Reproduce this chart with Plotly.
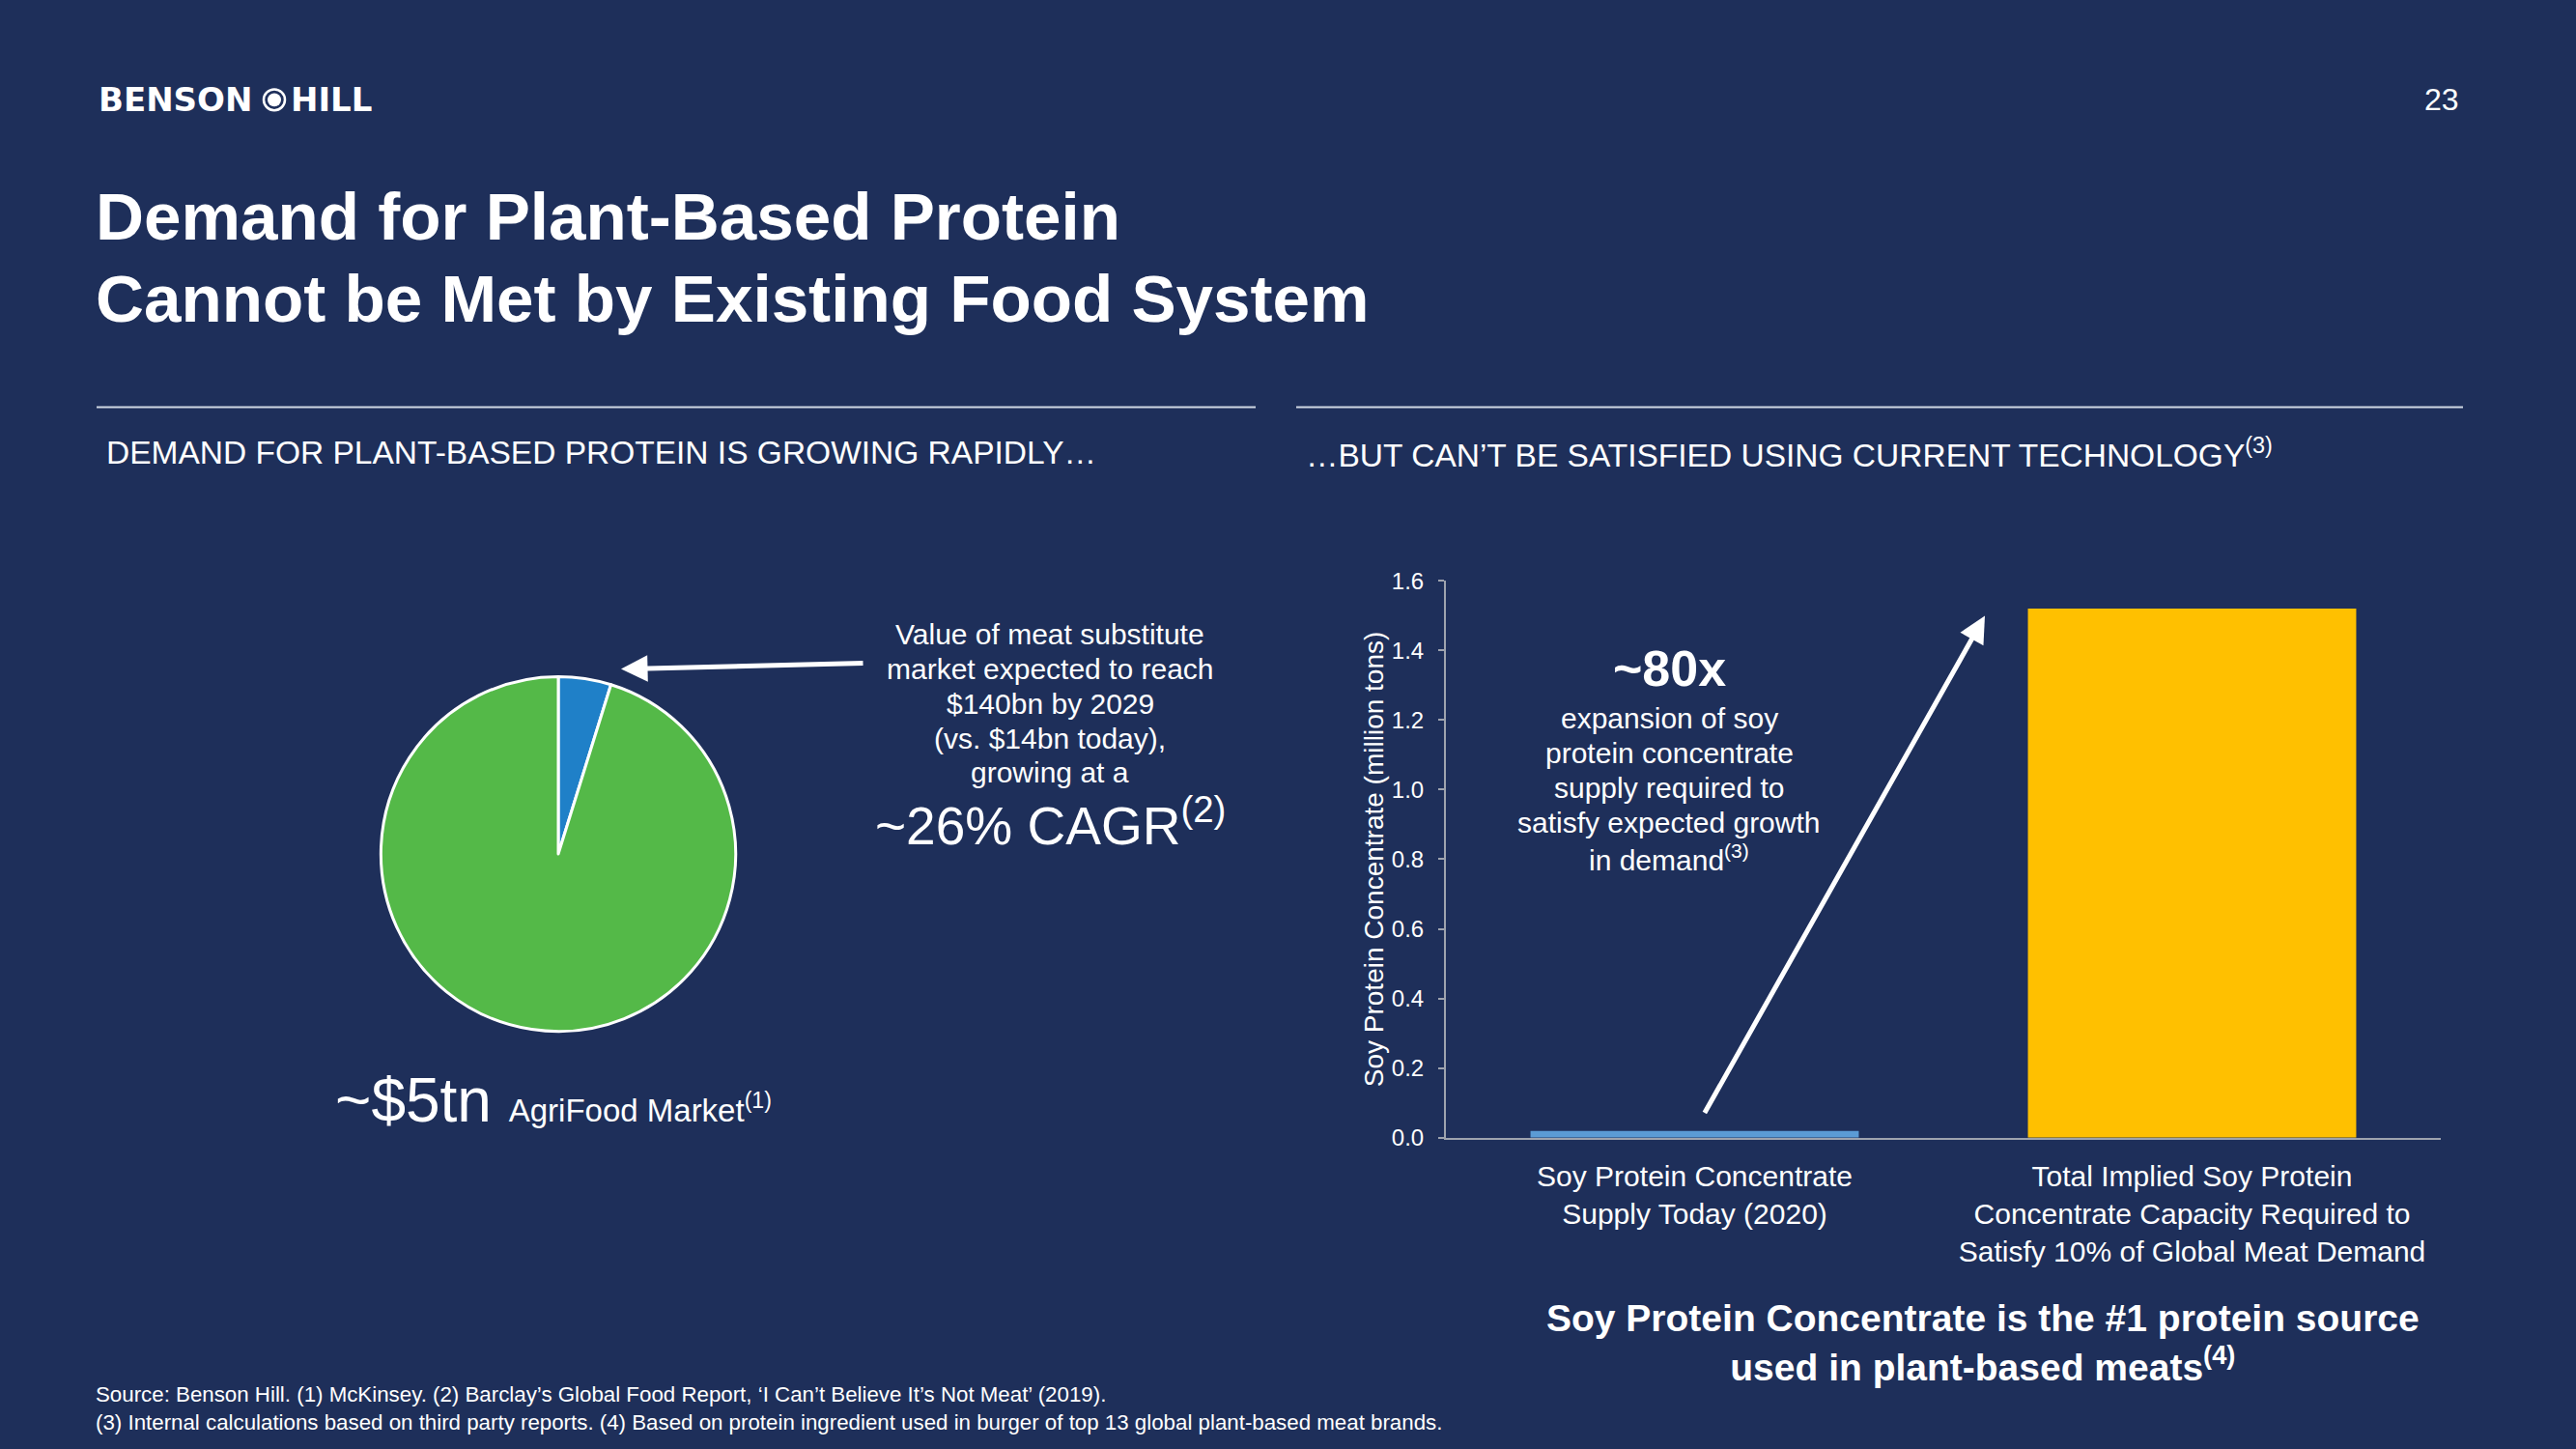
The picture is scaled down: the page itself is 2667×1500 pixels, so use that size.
import plotly.graph_objects as go

W, H = 2667, 1500
BG = "#1e2f5a"
WHITE = "#ffffff"
AXIS = "#9ea3ae"

# ---- data ----
pie_labels = ["Meat substitute market", "Rest of AgriFood market"]
pie_values = [4.8, 95.2]
pie_colors = ["#1f80c8", "#54b948"]

bar_categories = [
    "Soy Protein Concentrate<br>Supply Today (2020)",
    "Total Implied Soy Protein<br>Concentrate Capacity Required to<br>Satisfy 10% of Global Meat Demand",
]
bar_values = [0.019, 1.52]
bar_colors = ["#5b9bd5", "#ffc000"]
y_ticks = [0.0, 0.2, 0.4, 0.6, 0.8, 1.0, 1.2, 1.4, 1.6]

pie_note_lines = ["Value of meat substitute", "market expected to reach", "$140bn by 2029",
                  "(vs. $14bn today),", "growing at a"]
bar_note_lines = ["expansion of soy", "protein concentrate", "supply required to",
                  "satisfy expected growth", "in demand<sup>(3)</sup>"]


def X(px):
    return px / W


def Y(py):
    return 1 - py / H


FONT = "Liberation Sans, Arial, sans-serif"

fig = go.Figure()

fig.add_trace(go.Pie(
    labels=pie_labels, values=pie_values, sort=False, direction="clockwise",
    rotation=0, marker=dict(colors=pie_colors, line=dict(color=WHITE, width=3)),
    textinfo="none", showlegend=False,
    domain=dict(x=[X(391), X(765)], y=[Y(1073), Y(699)]),
))

fig.add_trace(go.Bar(
    x=bar_categories, y=bar_values, marker=dict(color=bar_colors, line=dict(width=0)),
    showlegend=False, xaxis="x", yaxis="y",
))

fig.update_layout(
    width=W, height=H, margin=dict(l=0, r=0, t=0, b=0),
    paper_bgcolor=BG, plot_bgcolor=BG,
    font=dict(family=FONT, color=WHITE),
    bargap=0.34,
    xaxis=dict(
        domain=[X(1497), X(2527)], anchor="y",
        showline=True, linecolor=AXIS, linewidth=2, ticks="", showgrid=False,
        tickfont=dict(size=30, color=WHITE), ticklabelstandoff=12,
    ),
    yaxis=dict(
        domain=[Y(1185), Y(598)], anchor="x", range=[0, 1.6],
        tickvals=y_ticks, tickformat=".1f",
        showline=True, linecolor=AXIS, linewidth=2, ticks="outside", ticklen=6,
        tickcolor=AXIS, tickwidth=2, showgrid=False, zeroline=False,
        tickfont=dict(size=24, color=WHITE), ticklabelstandoff=10,
        title=dict(text="Soy Protein Concentrate (million tons)",
                   font=dict(size=28, color=WHITE), standoff=0),
    ),
)

ann = []


def txt(x, y, text, size, bold=False, xanchor="left", yanchor="middle", family=FONT, align="left"):
    ann.append(dict(
        x=X(x), y=Y(y), xref="paper", yref="paper", text=text, showarrow=False,
        xanchor=xanchor, yanchor=yanchor, align=align,
        font=dict(size=size, color=WHITE, family=family, weight="bold" if bold else "normal"),
    ))


# logo and page number
txt(100, 91, "BENSON", 34, bold=True, family="DejaVu Sans")
txt(299, 91, "HILL", 34, bold=True, family="DejaVu Sans")
txt(2548, 91, "23", 32, xanchor="right")

# title
txt(97, 214, "Demand for Plant-Based Protein", 69.2, bold=True)
txt(97, 300, "Cannot be Met by Existing Food System", 69.2, bold=True)

# section headers
txt(108, 463, "DEMAND FOR PLANT-BASED PROTEIN IS GROWING RAPIDLY\u2026", 33.5)
txt(1350, 463, "\u2026BUT CAN\u2019T BE SATISFIED USING CURRENT TECHNOLOGY<sup>(3)</sup>", 33.5)

# pie annotations
for i, line in enumerate(pie_note_lines):
    txt(1087, 654 + i * 36.6, line, 30, xanchor="center", align="center")
txt(1087, 852, "~26% CAGR<sup>(2)</sup>", 55, xanchor="center", align="center")
txt(345, 1146, "~$5tn <span style='font-size:33px'>AgriFood Market<sup>(1)</sup></span>", 64)

# bar annotations
txt(1728, 690, "~80x", 52, bold=True, xanchor="center", align="center")
for i, line in enumerate(bar_note_lines):
    txt(1728, 743 + i * 36.7, line, 30, xanchor="center", align="center")

# bottom statement
txt(2053, 1401, "Soy Protein Concentrate is the #1 protein source<br>used in plant-based meats<sup>(4)</sup>",
    39, bold=True, xanchor="center", align="center")

# footnote
txt(97, 1470, "Source: Benson Hill. (1) McKinsey. (2) Barclay\u2019s Global Food Report, \u2018I Can\u2019t Believe It\u2019s Not Meat\u2019 (2019).<br>"
    "(3) Internal calculations based on third party reports. (4) Based on protein ingredient used in burger of top 13 global plant-based meat brands.",
    22.3)

# arrows
ann.append(dict(x=X(643), y=Y(691), xref="paper", yref="paper", ax=895 - 643, ay=685 - 691,
                axref="pixel", ayref="pixel", text="", showarrow=True, arrowhead=2,
                arrowwidth=5, arrowsize=1.1, arrowcolor=WHITE))
ann.append(dict(x=X(2055), y=Y(635), xref="paper", yref="paper", ax=1764 - 2055, ay=1151 - 635,
                axref="pixel", ayref="pixel", text="", showarrow=True, arrowhead=2,
                arrowwidth=5, arrowsize=1.1, arrowcolor=WHITE))

shapes = [
    dict(type="line", xref="paper", yref="paper", x0=X(100), x1=X(1300), y0=Y(415), y1=Y(415),
         line=dict(color="#cfd8e3", width=2)),
    dict(type="line", xref="paper", yref="paper", x0=X(1342), x1=X(2550), y0=Y(415), y1=Y(415),
         line=dict(color="#cfd8e3", width=2)),
    # logo ring and dot
    dict(type="circle", xref="paper", yref="paper", x0=X(273), x1=X(295), y0=Y(102), y1=Y(80),
         line=dict(color=WHITE, width=2.5), fillcolor="rgba(0,0,0,0)"),
    dict(type="circle", xref="paper", yref="paper", x0=X(277), x1=X(291), y0=Y(98), y1=Y(84),
         line=dict(width=0), fillcolor=WHITE),
]

fig.update_layout(annotations=ann, shapes=shapes)
fig.write_html("out.html")
